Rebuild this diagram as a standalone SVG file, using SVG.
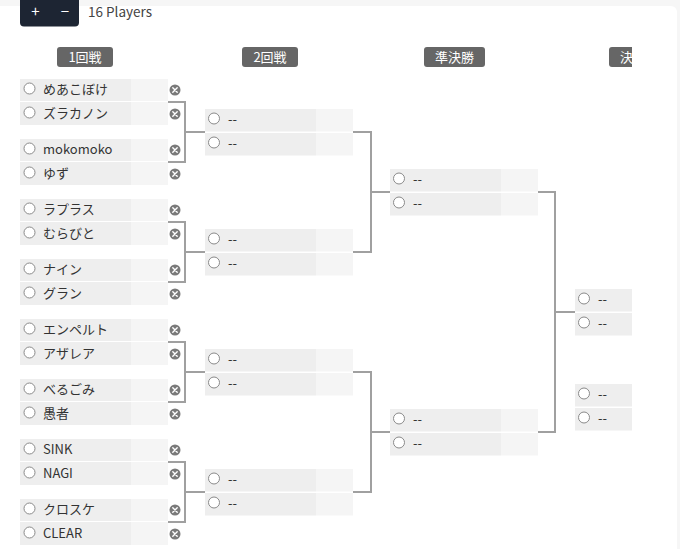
<svg xmlns="http://www.w3.org/2000/svg" width="680" height="549" viewBox="0 0 680 549">
<style>
  text { font-family: "Noto Sans CJK JP", "Noto Sans", "DejaVu Sans", sans-serif; }
  .d { fill: #eeeeee; }
  .l { fill: #f5f5f5; }
  .rad { fill: #ffffff; stroke: #8a8a8a; stroke-width: 1; }
  .nm { font-size: 13px; fill: #333333; }
  .x { fill: #7a7a7a; }
  .xl { stroke: #ffffff; stroke-width: 1.4; stroke-linecap: round; }
  .hd { fill: #666666; }
  .ht { font-size: 13px; fill: #ffffff; text-anchor: middle; }
  .cn { fill: none; stroke: #a0a0a0; stroke-width: 2; }
</style>
<defs>
  <g id="xb"><circle class="x" r="5.5"/><path class="xl" d="M-2.2,-2.2 L2.2,2.2 M2.2,-2.2 L-2.2,2.2"/></g>
  <clipPath id="clipR"><rect x="0" y="0" width="632" height="549"/></clipPath>
</defs>
<rect x="0" y="0" width="680" height="549" fill="#f6f6f6"/>
<rect x="-10" y="6" width="687" height="560" rx="6" fill="#ffffff"/>

<g id="toolbar">
  <rect x="20" y="-6" width="59" height="32.5" rx="4" fill="#1d2533"/>
  <text x="35.5" y="17" font-size="15" fill="#ffffff" text-anchor="middle">+</text>
  <text x="65" y="17" font-size="15" fill="#ffffff" text-anchor="middle">−</text>
  <text x="88" y="17" font-size="13.5" fill="#444444">16 Players</text>
</g>

<g id="headers">
  <rect class="hd" x="57" y="47" width="56" height="20" rx="3"/><text class="ht" x="85" y="62">1回戦</text>
  <rect class="hd" x="242" y="47" width="56" height="20" rx="3"/><text class="ht" x="270" y="62">2回戦</text>
  <rect class="hd" x="424" y="47" width="61" height="20" rx="3"/><text class="ht" x="454.5" y="62">準決勝</text>
  <g clip-path="url(#clipR)">
    <rect class="hd" x="609" y="47" width="56" height="20" rx="3"/><text x="620" y="62" font-size="13" fill="#ffffff">決</text>
  </g>
</g>

<g id="connectors">
  <path class="cn" d="M168,102 H185 V162 H168 M185,132 H205"/>
  <path class="cn" d="M168,222 H185 V282 H168 M185,252 H205"/>
  <path class="cn" d="M168,342 H185 V402 H168 M185,372 H205"/>
  <path class="cn" d="M168,462 H185 V522 H168 M185,492 H205"/>
  <path class="cn" d="M353,132 H371 V252 H353 M371,192 H390"/>
  <path class="cn" d="M353,372 H371 V492 H353 M371,432 H390"/>
  <path class="cn" d="M538,192 H555 V432 H538 M555,312 H575"/>
</g>

<!-- Round 1 -->
<g id="r1m1">
  <g id="r1m1a"><rect class="d" x="20" y="79" width="111" height="22"/><rect class="l" x="131" y="79" width="37" height="22"/><circle class="rad" cx="29.5" cy="88.5" r="5.5"/><text class="nm" x="43" y="94">めあこぼけ</text><use href="#xb" x="175" y="90"/></g>
  <g id="r1m1b"><rect class="d" x="20" y="102" width="111" height="23"/><rect class="l" x="131" y="102" width="37" height="23"/><circle class="rad" cx="29.5" cy="112.5" r="5.5"/><text class="nm" x="43" y="118">ズラカノン</text><use href="#xb" x="175" y="114"/></g>
</g>
<g id="r1m2">
  <g id="r1m2a"><rect class="d" x="20" y="139" width="111" height="22"/><rect class="l" x="131" y="139" width="37" height="22"/><circle class="rad" cx="29.5" cy="148.5" r="5.5"/><text class="nm" x="43" y="154">mokomoko</text><use href="#xb" x="175" y="150"/></g>
  <g id="r1m2b"><rect class="d" x="20" y="162" width="111" height="23"/><rect class="l" x="131" y="162" width="37" height="23"/><circle class="rad" cx="29.5" cy="172.5" r="5.5"/><text class="nm" x="43" y="178">ゆず</text><use href="#xb" x="175" y="174"/></g>
</g>
<g id="r1m3">
  <g id="r1m3a"><rect class="d" x="20" y="199" width="111" height="22"/><rect class="l" x="131" y="199" width="37" height="22"/><circle class="rad" cx="29.5" cy="208.5" r="5.5"/><text class="nm" x="43" y="214">ラプラス</text><use href="#xb" x="175" y="210"/></g>
  <g id="r1m3b"><rect class="d" x="20" y="222" width="111" height="23"/><rect class="l" x="131" y="222" width="37" height="23"/><circle class="rad" cx="29.5" cy="232.5" r="5.5"/><text class="nm" x="43" y="238">むらびと</text><use href="#xb" x="175" y="234"/></g>
</g>
<g id="r1m4">
  <g id="r1m4a"><rect class="d" x="20" y="259" width="111" height="22"/><rect class="l" x="131" y="259" width="37" height="22"/><circle class="rad" cx="29.5" cy="268.5" r="5.5"/><text class="nm" x="43" y="274">ナイン</text><use href="#xb" x="175" y="270"/></g>
  <g id="r1m4b"><rect class="d" x="20" y="282" width="111" height="23"/><rect class="l" x="131" y="282" width="37" height="23"/><circle class="rad" cx="29.5" cy="292.5" r="5.5"/><text class="nm" x="43" y="298">グラン</text><use href="#xb" x="175" y="294"/></g>
</g>
<g id="r1m5">
  <g id="r1m5a"><rect class="d" x="20" y="319" width="111" height="22"/><rect class="l" x="131" y="319" width="37" height="22"/><circle class="rad" cx="29.5" cy="328.5" r="5.5"/><text class="nm" x="43" y="334">エンペルト</text><use href="#xb" x="175" y="330"/></g>
  <g id="r1m5b"><rect class="d" x="20" y="342" width="111" height="23"/><rect class="l" x="131" y="342" width="37" height="23"/><circle class="rad" cx="29.5" cy="352.5" r="5.5"/><text class="nm" x="43" y="358">アザレア</text><use href="#xb" x="175" y="354"/></g>
</g>
<g id="r1m6">
  <g id="r1m6a"><rect class="d" x="20" y="379" width="111" height="22"/><rect class="l" x="131" y="379" width="37" height="22"/><circle class="rad" cx="29.5" cy="388.5" r="5.5"/><text class="nm" x="43" y="394">べるごみ</text><use href="#xb" x="175" y="390"/></g>
  <g id="r1m6b"><rect class="d" x="20" y="402" width="111" height="23"/><rect class="l" x="131" y="402" width="37" height="23"/><circle class="rad" cx="29.5" cy="412.5" r="5.5"/><text class="nm" x="43" y="418">愚者</text><use href="#xb" x="175" y="414"/></g>
</g>
<g id="r1m7">
  <g id="r1m7a"><rect class="d" x="20" y="439" width="111" height="22"/><rect class="l" x="131" y="439" width="37" height="22"/><circle class="rad" cx="29.5" cy="448.5" r="5.5"/><text class="nm" x="43" y="454">SINK</text><use href="#xb" x="175" y="450"/></g>
  <g id="r1m7b"><rect class="d" x="20" y="462" width="111" height="23"/><rect class="l" x="131" y="462" width="37" height="23"/><circle class="rad" cx="29.5" cy="472.5" r="5.5"/><text class="nm" x="43" y="478">NAGI</text><use href="#xb" x="175" y="474"/></g>
</g>
<g id="r1m8">
  <g id="r1m8a"><rect class="d" x="20" y="499" width="111" height="22"/><rect class="l" x="131" y="499" width="37" height="22"/><circle class="rad" cx="29.5" cy="508.5" r="5.5"/><text class="nm" x="43" y="514">クロスケ</text><use href="#xb" x="175" y="510"/></g>
  <g id="r1m8b"><rect class="d" x="20" y="522" width="111" height="23"/><rect class="l" x="131" y="522" width="37" height="23"/><circle class="rad" cx="29.5" cy="532.5" r="5.5"/><text class="nm" x="43" y="538">CLEAR</text><use href="#xb" x="175" y="534"/></g>
</g>

<!-- Round 2 -->
<g id="r2m1">
  <rect class="d" x="205" y="109" width="111" height="22.5"/><rect class="l" x="316" y="109" width="37" height="22.5"/><circle class="rad" cx="214" cy="118.5" r="5.5"/><text class="nm" x="228" y="124">--</text>
  <rect class="d" x="205" y="133" width="111" height="22.5"/><rect class="l" x="316" y="133" width="37" height="22.5"/><circle class="rad" cx="214" cy="142.5" r="5.5"/><text class="nm" x="228" y="148">--</text>
</g>
<g id="r2m2">
  <rect class="d" x="205" y="229" width="111" height="22.5"/><rect class="l" x="316" y="229" width="37" height="22.5"/><circle class="rad" cx="214" cy="238.5" r="5.5"/><text class="nm" x="228" y="244">--</text>
  <rect class="d" x="205" y="253" width="111" height="22.5"/><rect class="l" x="316" y="253" width="37" height="22.5"/><circle class="rad" cx="214" cy="262.5" r="5.5"/><text class="nm" x="228" y="268">--</text>
</g>
<g id="r2m3">
  <rect class="d" x="205" y="349" width="111" height="22.5"/><rect class="l" x="316" y="349" width="37" height="22.5"/><circle class="rad" cx="214" cy="358.5" r="5.5"/><text class="nm" x="228" y="364">--</text>
  <rect class="d" x="205" y="373" width="111" height="22.5"/><rect class="l" x="316" y="373" width="37" height="22.5"/><circle class="rad" cx="214" cy="382.5" r="5.5"/><text class="nm" x="228" y="388">--</text>
</g>
<g id="r2m4">
  <rect class="d" x="205" y="469" width="111" height="22.5"/><rect class="l" x="316" y="469" width="37" height="22.5"/><circle class="rad" cx="214" cy="478.5" r="5.5"/><text class="nm" x="228" y="484">--</text>
  <rect class="d" x="205" y="493" width="111" height="22.5"/><rect class="l" x="316" y="493" width="37" height="22.5"/><circle class="rad" cx="214" cy="502.5" r="5.5"/><text class="nm" x="228" y="508">--</text>
</g>

<!-- Semifinals -->
<g id="sf1">
  <rect class="d" x="390" y="169" width="111" height="22.5"/><rect class="l" x="501" y="169" width="37" height="22.5"/><circle class="rad" cx="399" cy="178.5" r="5.5"/><text class="nm" x="413" y="184">--</text>
  <rect class="d" x="390" y="193" width="111" height="22.5"/><rect class="l" x="501" y="193" width="37" height="22.5"/><circle class="rad" cx="399" cy="202.5" r="5.5"/><text class="nm" x="413" y="208">--</text>
</g>
<g id="sf2">
  <rect class="d" x="390" y="409" width="111" height="22.5"/><rect class="l" x="501" y="409" width="37" height="22.5"/><circle class="rad" cx="399" cy="418.5" r="5.5"/><text class="nm" x="413" y="424">--</text>
  <rect class="d" x="390" y="433" width="111" height="22.5"/><rect class="l" x="501" y="433" width="37" height="22.5"/><circle class="rad" cx="399" cy="442.5" r="5.5"/><text class="nm" x="413" y="448">--</text>
</g>

<!-- Final and third place (clipped) -->
<g id="final">
  <rect class="d" x="575" y="289" width="57" height="22.5"/><circle class="rad" cx="584" cy="298.5" r="5.5"/><text class="nm" x="598" y="304">--</text>
  <rect class="d" x="575" y="313" width="57" height="22.5"/><circle class="rad" cx="584" cy="322.5" r="5.5"/><text class="nm" x="598" y="328">--</text>
</g>
<g id="third">
  <rect class="d" x="575" y="384" width="57" height="22.5"/><circle class="rad" cx="584" cy="393.5" r="5.5"/><text class="nm" x="598" y="399">--</text>
  <rect class="d" x="575" y="408" width="57" height="22.5"/><circle class="rad" cx="584" cy="417.5" r="5.5"/><text class="nm" x="598" y="423">--</text>
</g>
</svg>
